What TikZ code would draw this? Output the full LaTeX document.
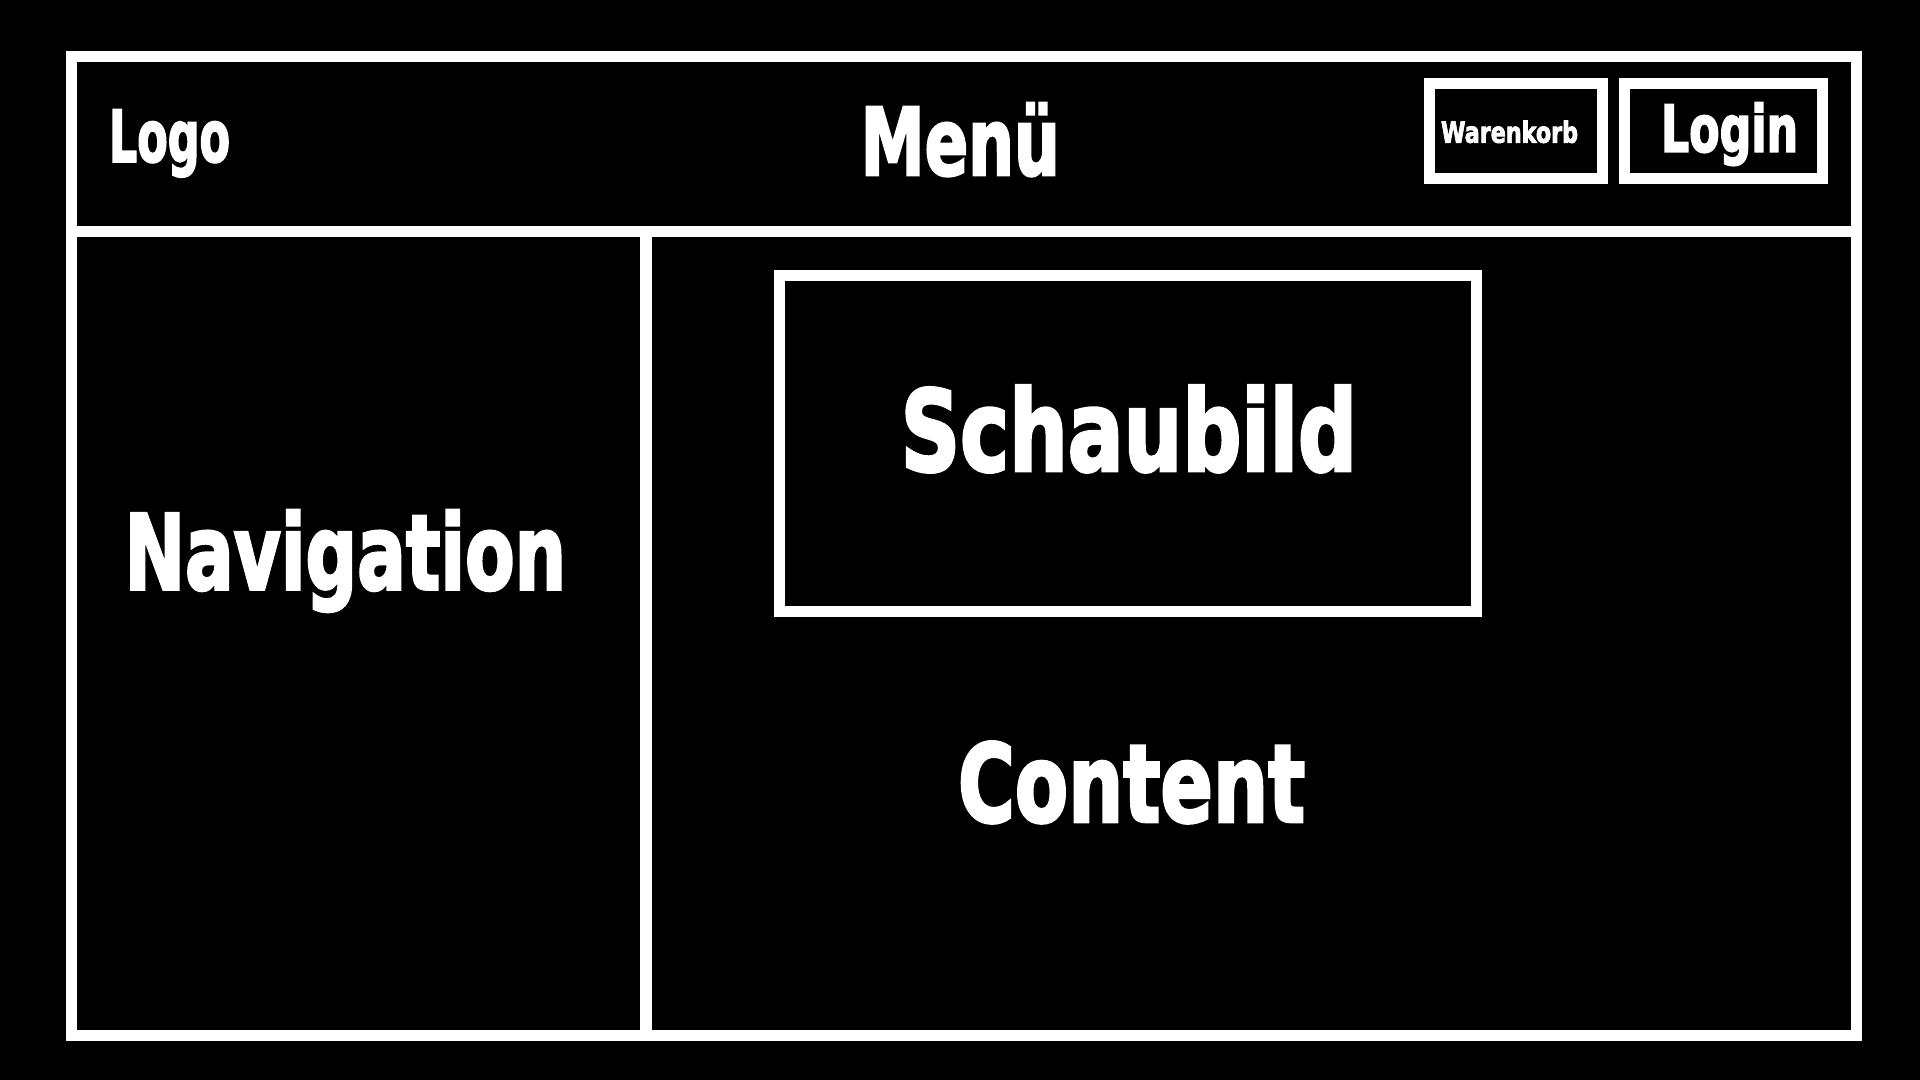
\documentclass[tikz,border=0pt]{standalone}
\usepackage{fontspec}
\usepackage{graphicx}
\newfontfamily\imp{DejaVu Sans}[BoldFeatures={FakeBold=3}]
\newcommand\fitt[3]{\resizebox{#1}{#2}{\imp\bfseries #3}}
\tikzset{
  frame/.style={draw=white, line width=0.11cm, fill=none, inner sep=0pt, outer sep=0pt},
  label/.style={text=white, inner sep=0pt, outer sep=0pt, anchor=base west},
  divider/.style={draw=white, line width=0.11cm},
}
\begin{document}
\begin{tikzpicture}[x=0.01cm, y=-0.01cm]
  \fill[black] (0,0) rectangle (1920,1080);
  \useasboundingbox (0,0) rectangle (1920,1080);
  % outer frame
  \node[frame, minimum width=17.84cm, minimum height=9.787cm] (outer) at (964,546.35) {};
  % header divider
  \coordinate (hl) at (72,231.5);
  \coordinate (hr) at (1856,231.5);
  \draw[divider] (hl) -- (hr);
  % vertical divider
  \coordinate (vt) at (646,231.5);
  \draw[divider, line width=0.125cm] (vt) -- (vt |- outer.south);
  % boxes
  \node[frame, minimum width=6.967cm, minimum height=3.35cm] (schaubildbox) at (1128.35,443.5) {};
  \node[frame, minimum width=1.72cm, minimum height=0.955cm] (warenkorbbox) at (1516,131.05) {};
  \node[frame, minimum width=1.97cm, minimum height=0.955cm] (loginbox) at (1723.5,131.05) {};
  % texts
  \node[label] (logo) at (109,161.7) {\fitt{1.21cm}{0.52cm}{Logo}};
  \node[label] (menu) at (860.7,175) {\fitt{1.99cm}{0.72cm}{Menü}};
  \node[label] (warenkorb) at (1441,142.7) {\fitt{1.37cm}{0.22cm}{Warenkorb}};
  \node[label] (login) at (1661,151.7) {\fitt{1.37cm}{0.49cm}{Login}};
  \node[label] (navigation) at (124.7,589.3) {\fitt{4.41cm}{0.79cm}{Navigation}};
  \node[label] (schaubild) at (900.7,470.7) {\fitt{4.56cm}{0.85cm}{Schaubild}};
  \node[label] (content) at (958,821.7) {\fitt{3.47cm}{0.80cm}{Content}};
\end{tikzpicture}
\end{document}
